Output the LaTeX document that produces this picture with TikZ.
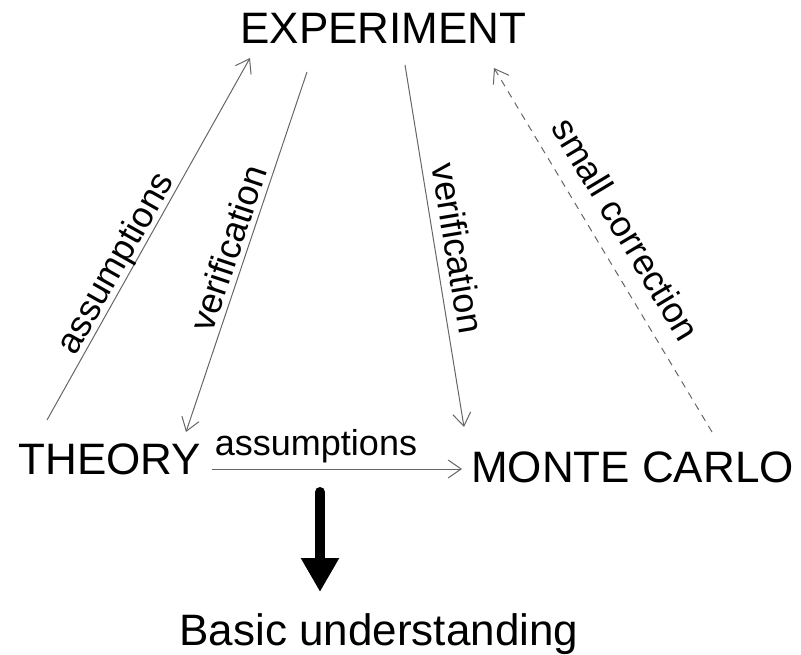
\documentclass[tikz,border=0pt]{standalone}
\usepackage{fontspec}
\setmainfont{Liberation Sans}
\usetikzlibrary{arrows.meta}
\begin{document}
\begin{tikzpicture}[x=1pt,y=-1pt,
  big/.style={font=\fontsize{44}{50}\selectfont, inner sep=0pt, anchor=base},
  lbl/.style={font=\fontsize{36}{40}\selectfont, inner sep=0pt},
  conn/.style={draw=black!60, line width=1pt, -{Straight Barb[length=13pt,width=18pt,line width=1pt]}},
  thick arrow/.style={line width=10pt, line cap=round, -{Triangle[length=34pt,width=36pt,line cap=butt]}}]
\useasboundingbox (0,0) rectangle (801,655);
\node[big] (exp) at (383.5,44) {EXPERIMENT};
\node[big] (the) at (110,474) {THEORY};
\node[big] (mc) at (632.5,482) {MONTE CARLO};
\node[big] (bu) at (379,645) {Basic understanding};
% endpoints
\coordinate (a1s) at (47,420);  \coordinate (a1e) at (250,58);
\coordinate (v1s) at (307,72);  \coordinate (v1e) at (186,432);
\coordinate (v2s) at (405,65);  \coordinate (v2e) at (464,427);
\coordinate (scs) at (712,432); \coordinate (sce) at (494,68);
\coordinate (ahs) at (212,469); \coordinate (ahe) at (462,469);
\coordinate (bas) at (320,492); \coordinate (bae) at (320,592);
\draw[conn] (a1s) -- (a1e);
\draw[conn] (v1s) -- (v1e);
\draw[conn] (v2s) -- (v2e);
\draw[conn, dash pattern=on 7pt off 6pt] (scs) -- (sce);
\draw[conn] (ahs) -- (ahe);
\draw[thick arrow] (bas) -- (bae);
% labels
\node[lbl, rotate=60.5] (l1) at (117,264) {assumptions};
\node[lbl, rotate=71.5] (l2) at (228,248) {verification};
\node[lbl, rotate=-80.5] (l3) at (458,248) {verification};
\node[lbl, rotate=-59] (l4) at (626,229) {small correction};
\node[lbl, anchor=base] (l5) at (316,455) {assumptions};
\end{tikzpicture}
\end{document}
